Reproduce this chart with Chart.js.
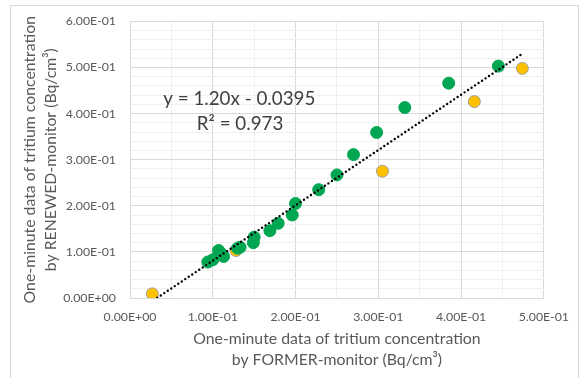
<!DOCTYPE html>
<html>
<head>
<meta charset="utf-8">
<script src="https://cdn.jsdelivr.net/npm/chart.js@4"></script>
<style>
  html, body { margin: 0; padding: 0; background: #fff; }
  #wrap { position: relative; width: 581px; height: 378px; }
  #frame { position: absolute; left: 10px; top: 5px; width: 567px; height: 380px;
           border: 1px solid #d9d9d9; pointer-events: none; }
</style>
</head>
<body>
<div id="wrap">
  <canvas id="chart" width="581" height="378"></canvas>
  <div id="frame"></div>
</div>
<script>
// renewed-monitor vs former-monitor values (Bq/cm3)
const greenX = [0.094, 0.100, 0.107, 0.110, 0.113, 0.130, 0.133, 0.149, 0.150, 0.169,
                0.179, 0.196, 0.200, 0.228, 0.250, 0.270, 0.298, 0.332, 0.385, 0.445];
const greenY = [0.078, 0.083, 0.103, 0.097, 0.090, 0.108, 0.110, 0.120, 0.132, 0.146,
                0.162, 0.180, 0.205, 0.235, 0.267, 0.311, 0.359, 0.413, 0.466, 0.503];
const orangeX = [0.027, 0.128, 0.305, 0.416, 0.474];
const orangeY = [0.009, 0.103, 0.275, 0.426, 0.498];
// trendline end points
const trendX = [0.033, 0.475];
const trendY = [0.0005, 0.531];
const eqLines = ['y = 1.20x - 0.0395', 'R² = 0.973'];
const eqPos = [[0.132, 0.432], [0.133, 0.378]];

const FONT = 'Lato, "Open Sans", sans-serif';
const GREY = '#595959';

function pts(xs, ys) {
  return xs.map((x, i) => ({ x: x, y: ys[i] }));
}

function sci(v) {
  const parts = Number(v).toExponential(2).split('e');
  const n = parseInt(parts[1], 10);
  return parts[0] + 'E' + (n < 0 ? '-' : '+') + String(Math.abs(n)).padStart(2, '0');
}

function isMajor(v) {
  return Math.round(v * 100) % 10 === 0;
}

const gridColor = ctx => (ctx.tick && isMajor(ctx.tick.value)) ? '#d9d9d9' : '#f0f0f0';

// equation text placed in data coordinates
const equationPlugin = {
  id: 'equation',
  afterDatasetsDraw(chart) {
    const ctx = chart.ctx;
    const xs = chart.scales.x, ys = chart.scales.y;
    ctx.save();
    ctx.font = '18.8px ' + FONT;
    ctx.fillStyle = '#404040';
    ctx.textAlign = 'center';
    ctx.textBaseline = 'middle';
    eqLines.forEach((t, i) => {
      ctx.fillText(t, xs.getPixelForValue(eqPos[i][0]), ys.getPixelForValue(eqPos[i][1]));
    });
    ctx.restore();
  }
};

new Chart(document.getElementById('chart'), {
  type: 'scatter',
  data: {
    datasets: [
      {
        label: 'trend',
        type: 'line',
        data: pts(trendX, trendY),
        borderColor: '#000',
        borderWidth: 2.4,
        borderDash: [0, 4.2],
        borderCapStyle: 'round',
        pointRadius: 0,
        fill: false,
        order: 0
      },
      {
        label: 'green',
        data: pts(greenX, greenY),
        backgroundColor: '#00a651',
        borderColor: '#00a651',
        borderWidth: 1,
        pointRadius: 6,
        order: 1
      },
      {
        label: 'orange',
        data: pts(orangeX, orangeY),
        backgroundColor: '#ffc000',
        borderColor: '#a0a0a0',
        borderWidth: 1,
        pointRadius: 6,
        order: 2
      }
    ]
  },
  options: {
    responsive: false,
    animation: false,
    layout: { padding: { left: 9, right: 33, top: 17, bottom: 0 } },
    plugins: {
      legend: { display: false },
      tooltip: { enabled: false }
    },
    scales: {
      x: {
        type: 'linear',
        min: 0,
        max: 0.5,
        afterFit: s => { s.height = 80; },
        grid: { color: gridColor, drawTicks: false },
        border: { color: '#d9d9d9' },
        ticks: {
          stepSize: 0.05,
          padding: 12,
          autoSkip: false,
          maxRotation: 0,
          color: GREY,
          font: { family: FONT, size: 12.3 },
          callback: v => isMajor(v) ? sci(v) : ''
        },
        title: {
          display: true,
          text: ['One-minute data of tritium concentration', 'by FORMER-monitor (Bq/cm³)'],
          color: GREY,
          font: { family: FONT, size: 15.8, lineHeight: 1.35 },
          padding: { top: 0, bottom: 7 }
        }
      },
      y: {
        type: 'linear',
        min: 0,
        max: 0.6,
        afterFit: s => { s.width = 121; },
        grid: { color: gridColor, drawTicks: false },
        border: { color: '#d9d9d9' },
        ticks: {
          stepSize: 0.02,
          padding: 14,
          autoSkip: false,
          color: GREY,
          font: { family: FONT, size: 12.3 },
          callback: v => isMajor(v) ? sci(v) : ''
        },
        title: {
          display: true,
          text: ['One-minute data of tritium concentration', 'by RENEWED-monitor (Bq/cm³)'],
          color: GREY,
          font: { family: FONT, size: 15.8, lineHeight: 1.35 },
          padding: { top: 10, bottom: 0 }
        }
      }
    }
  },
  plugins: [equationPlugin]
});
</script>
</body>
</html>
